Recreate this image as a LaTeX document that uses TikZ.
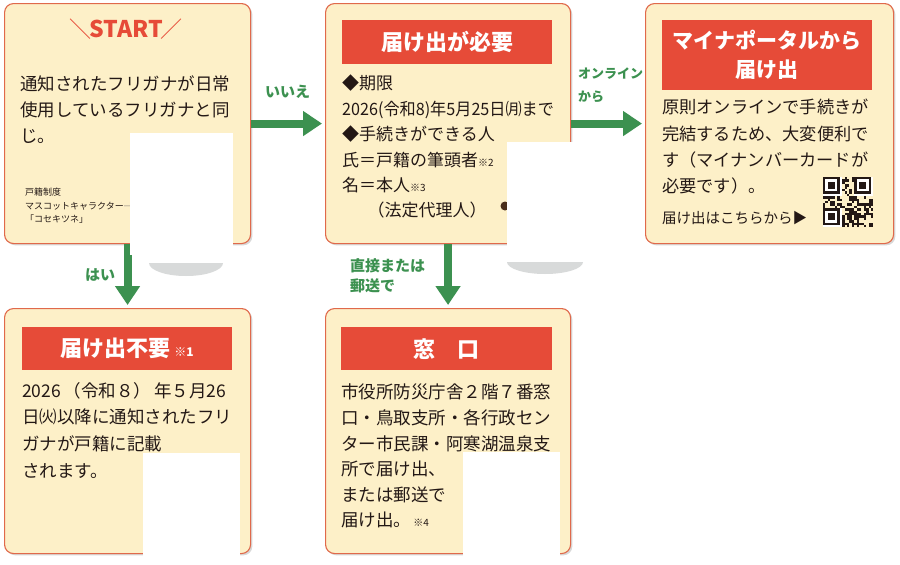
\documentclass[tikz,border=0pt]{standalone}
\usepackage{fontspec}
\usepackage{graphicx}
\setmainfont{Noto Sans CJK JP}
\usetikzlibrary{arrows.meta,shadows}
\definecolor{boxfill}{HTML}{FDF0C8}
\definecolor{boxdraw}{HTML}{E0694B}
\definecolor{hdrred}{HTML}{E64B38}
\definecolor{arrgreen}{HTML}{3C9150}
\definecolor{ink}{HTML}{231815}
\definecolor{mgrey}{HTML}{D8DADA}
\definecolor{blob}{HTML}{4A2E1A}
\tikzset{
  box/.style={draw=boxdraw, line width=1.1pt, fill=boxfill, rounded corners=9pt,
    anchor=north west, inner sep=0pt,
    drop shadow={shadow xshift=1.8pt, shadow yshift=-1.8pt, opacity=0.3}},
  hdr/.style={fill=hdrred, text=white, font=\bfseries\fontsize{22}{29}\selectfont,
    anchor=north west, inner sep=0pt, align=center, minimum width=210pt},
  body/.style={text=ink, anchor=north west, inner sep=0pt, align=left},
  arr/.style={draw=arrgreen, line width=8pt, -{Triangle[length=19pt,width=24pt]}, shorten >=3pt},
  lbl/.style={text=arrgreen, font=\bfseries\fontsize{15}{20}\selectfont, inner sep=0pt,
    align=left, anchor=north west},
  blank/.style={fill=white, draw=none},
}
\newcommand{\smallnote}[1]{{\fontsize{10}{10}\selectfont #1}}
\begin{document}
\begin{tikzpicture}[x=1pt,y=-1pt]
\useasboundingbox (0,0) rectangle (900,565);
\fill[white] (0,0) rectangle (900,565);

% boxes
\node[box, minimum width=246pt, minimum height=240pt] (b1) at (4,3) {};
\node[box, minimum width=245pt, minimum height=240pt] (b2) at (325,3) {};
\node[box, minimum width=248pt, minimum height=240pt] (b3) at (645,3) {};
\node[box, minimum width=246pt, minimum height=245pt] (b4) at (4,308) {};
\node[box, minimum width=245pt, minimum height=245pt] (b5) at (325,308) {};

% box 1
\node[text=hdrred, font=\fontsize{22}{22}\selectfont, inner sep=0pt] (st) at (126,29) {＼\kern-2pt{\bfseries\fontsize{23}{23}\selectfont START}\kern-2pt／};
\node[body, font=\fontsize{17.5}{26}\selectfont] (t1) at (20,75)
  {通知されたフリガナが日常\\使用しているフリガナと同\\じ。};
\node[body, font=\fontsize{9}{13.5}\selectfont] (ml) at (25,188)
  {戸籍制度\\マスコットキャラクター\\「コセキツネ」};
\coordinate (mlend) at (133,206);
\draw[ink!60, line width=0.5pt] (ml.east) -- (mlend);

% box 2
\node[hdr, minimum height=44pt] (h2) at (342,20) {届け出が必要};
\node[body, font=\fontsize{17}{25.4}\selectfont] (t2) at (342,75)
  {◆期限\\\scalebox{0.95}[1]{2026(令和8)年5月25日㈪まで}\\◆手続きができる人\\氏＝戸籍の筆頭者\smallnote{※2}\\名＝本人\smallnote{※3}\\\hspace*{1.5em}（法定代理人）};

% box 3
\node[hdr, minimum height=70pt, font=\bfseries\fontsize{21}{29}\selectfont] (h3) at (662,20) {マイナポータルから\\届け出};
\node[body, font=\fontsize{17.2}{26.3}\selectfont] (t3) at (662,99)
  {原則オンラインで手続きが\\完結するため、大変便利で\\す（マイナンバーカードが\\必要です）。};
\node[body, anchor=west, font=\fontsize{14.5}{18}\selectfont] (t3b) at (662,218) {届け出はこちらから▶};

% QR code
\begin{scope}[shift={(823,177)}]
  \pgfmathsetseed{11}
  \foreach \i in {0,...,20}{
    \foreach \j in {0,...,20}{
      \pgfmathsetmacro\rr{rnd}
      \ifdim\rr pt<0.5pt
        \fill[ink] ({\i*2.4},{\j*2.4}) rectangle ++(2.4,2.4);
      \fi
    }
  }
  \foreach \ox/\oy in {0/0,13/0,0/13}{
    \fill[white] ({\ox*2.4},{\oy*2.4}) rectangle ++(19.2,19.2);
    \fill[ink] ({\ox*2.4},{\oy*2.4}) rectangle ++(16.8,16.8);
    \fill[white] ({(\ox+1)*2.4},{(\oy+1)*2.4}) rectangle ++(12,12);
    \fill[ink] ({(\ox+2)*2.4},{(\oy+2)*2.4}) rectangle ++(7.2,7.2);
  }
\end{scope}

% box 4
\node[hdr, minimum height=43pt] (h4) at (22,327) {届け出不要\,{\fontsize{12}{12}\selectfont ※1}};
\node[body, font=\fontsize{17.5}{26.7}\selectfont] (t4) at (22,382)
  {2026\,（令和８）\,年５月26\\日㈫以降に通知されたフリ\\ガナが戸籍に記載\\されます。};

% box 5
\node[hdr, minimum width=211pt, minimum height=43pt] (h5) at (341,327) {窓　口};
\node[body, font=\fontsize{17.5}{25.6}\selectfont] (t5) at (341,384)
  {市役所防災庁舎２階７番窓\\口・鳥取支所・各行政セン\\ター市民課・阿寒湖温泉支\\所で届け出、\\または郵送で\\届け出。\smallnote{\ ※4}};

% arrows
\draw[arr] (b1.east) -- (b2.west);
\draw[arr] (b2.east) -- (b3.west);
\draw[arr] (b1.south) -- (b4.north);
\draw[arr] (b2.south) -- (b5.north);

% labels
\node[lbl] (l1) at (265,85) {いいえ};
\node[lbl, font=\bfseries\fontsize{13}{23}\selectfont] (l2) at (578,68) {オンライン\\から};
\node[lbl] (l3) at (85,268) {はい};
\node[lbl] (l4) at (350,258) {直接または\\郵送で};

% blanked images
\fill[mgrey] (149,263) arc[start angle=180, end angle=0, x radius=37, y radius=13] -- cycle;
\fill[blank] (130,133) rectangle (233,255);
\fill[mgrey] (507,262) arc[start angle=180, end angle=0, x radius=38, y radius=12] -- cycle;
\fill[blob] (505,206) circle (4.5);
\fill[blank] (507,142) rectangle (583,255);
\fill[blank] (143,453) rectangle (240,557);
\fill[blank] (463,452) rectangle (560,557);
\end{tikzpicture}
\end{document}
